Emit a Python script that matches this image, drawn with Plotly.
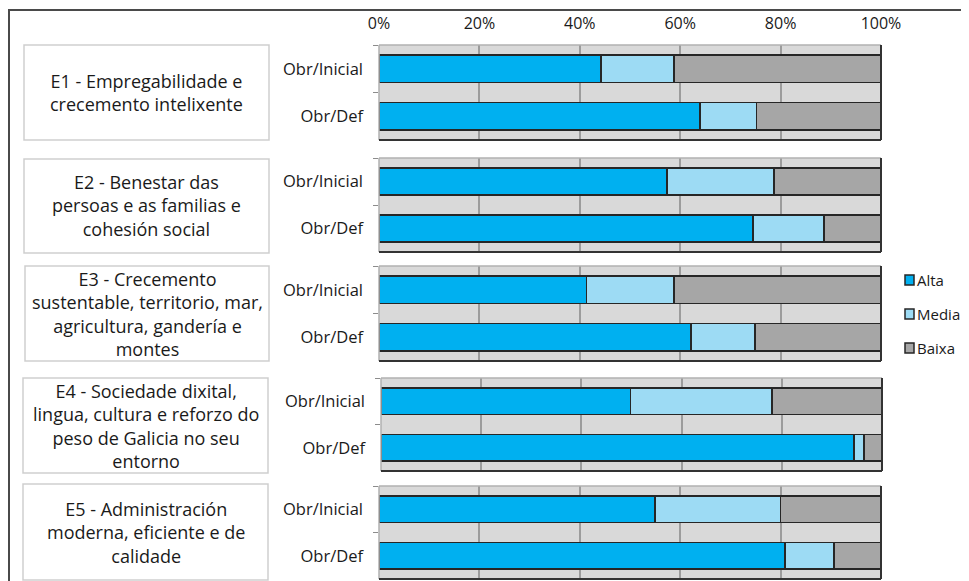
import plotly.graph_objects as go

W, H = 969, 581
PAGE_PAD = 8  # browser body margin around the plot div

ALTA = "#00B0F0"
MEDIA = "#9DDBF4"
BAIXA = "#A6A6A6"
PLOT_BG = "#D9D9D9"
GRID = "#9C9C9C"
EDGE = "#262626"
FONT = "Open Sans"
TXT = "#1a1a1a"

rows = ["Obr/Inicial", "Obr/Def"]

eixos = [
    "E1 - Empregabilidade e<br>crecemento intelixente",
    "E2 - Benestar das<br>persoas e as familias e<br>cohesión social",
    "E3 - Crecemento<br>sustentable, territorio, mar,<br>agricultura, gandería e<br>montes",
    "E4 - Sociedade dixital,<br>lingua, cultura e reforzo do<br>peso de Galicia no seu<br>entorno",
    "E5 - Administración<br>moderna, eficiente e de<br>calidade",
]

alta_ini = [44.2, 57.4, 41.3, 49.8, 55.0]
media_ini = [14.6, 21.3, 17.5, 28.2, 25.0]
baixa_ini = [41.2, 21.3, 41.2, 22.0, 20.0]

alta_def = [63.9, 74.5, 62.2, 94.4, 80.9]
media_def = [11.3, 14.1, 12.7, 2.0, 9.7]
baixa_def = [24.8, 11.4, 25.1, 3.6, 9.4]

xticks = [0, 20, 40, 60, 80, 100]
xticklabels = ["0%", "20%", "40%", "60%", "80%", "100%"]

# pixel layout of each panel on the page: (x0, x1, y_top, y_bottom)
panels = [
    (379, 881, 45, 140),
    (379, 881, 158, 252),
    (379, 881, 266, 361),
    (381, 882, 378, 471),
    (379, 881, 486, 579),
]
boxes = [
    (24, 269, 45, 140),
    (24, 269, 159, 253),
    (25, 269, 266, 361),
    (23, 268, 378, 473),
    (23, 268, 484, 580),
]
legend_y = [280, 314, 348]


def px_x(v):
    return (v - PAGE_PAD) / W


def px_y(v):
    return 1 - (v - PAGE_PAD) / H


def line(x0, y0, x1, y1, color, width):
    fig.add_shape(type="line", xref="paper", yref="paper",
                  x0=px_x(x0), x1=px_x(x1), y0=px_y(y0), y1=px_y(y1),
                  line=dict(color=color, width=width))


fig = go.Figure()
layout = {}

series = [
    ("Alta", ALTA, alta_ini, alta_def),
    ("Media", MEDIA, media_ini, media_def),
    ("Baixa", BAIXA, baixa_ini, baixa_def),
]

for i, (x0, x1, yt, yb) in enumerate(panels):
    n = "" if i == 0 else str(i + 1)
    for name, color, ini, dfn in series:
        fig.add_trace(
            go.Bar(
                y=rows,
                x=[ini[i], dfn[i]],
                orientation="h",
                name=name,
                showlegend=False,
                marker=dict(color=color, line=dict(color=EDGE, width=1.5)),
                width=0.58,
                xaxis="x" + n,
                yaxis="y" + n,
                hoverinfo="x+y+name",
            )
        )

    layout["xaxis" + n] = dict(
        domain=[px_x(x0), px_x(x1)],
        anchor="y" + n,
        range=[0, 100],
        tickvals=xticks,
        ticktext=xticklabels,
        showticklabels=(i == 0),
        side="top",
        ticklabelstandoff=12,
        tickfont=dict(size=16, color=TXT, family=FONT),
        showgrid=True,
        gridcolor=GRID,
        gridwidth=1.5,
        zeroline=False,
        showline=False,
        automargin=False,
        fixedrange=True,
    )
    layout["yaxis" + n] = dict(
        domain=[px_y(yb), px_y(yt)],
        anchor="x" + n,
        type="category",
        autorange="reversed",
        tickson="boundaries",
        ticks="outside",
        ticklen=5,
        tickcolor="#8c8c8c",
        ticklabelstandoff=15,
        tickfont=dict(size=16.5, color=TXT, family=FONT),
        showgrid=False,
        showline=False,
        automargin=False,
        fixedrange=True,
    )

    # panel frame: light top/left, darker right/bottom
    line(x0, yt, x1, yt, "#B0B0B0", 1.5)
    line(x0, yt, x0, yb, "#B0B0B0", 1.5)
    line(x1, yt, x1, yb, "#333333", 2)
    line(x0, yb, x1, yb, "#333333", 2)

for (bx0, bx1, byt, byb), text in zip(boxes, eixos):
    fig.add_shape(
        type="rect", xref="paper", yref="paper",
        x0=px_x(bx0), x1=px_x(bx1), y0=px_y(byb), y1=px_y(byt),
        line=dict(color="#CFCFCF", width=1.5),
        fillcolor="white",
    )
    fig.add_annotation(
        text=text,
        xref="paper", yref="paper",
        x=px_x((bx0 + bx1) / 2), y=px_y((byt + byb) / 2),
        xanchor="center", yanchor="middle",
        showarrow=False,
        align="center",
        font=dict(size=18, color=TXT, family=FONT),
    )

# legend drawn by hand so it sits tight against the right edge
for (name, color, _, _), ly in zip(series, legend_y):
    fig.add_shape(
        type="rect", xref="paper", yref="paper",
        x0=px_x(905), x1=px_x(914), y0=px_y(ly + 5), y1=px_y(ly - 5),
        line=dict(color=EDGE, width=1.5),
        fillcolor=color,
    )
    fig.add_annotation(
        text=name,
        xref="paper", yref="paper",
        x=px_x(915), y=px_y(ly),
        xanchor="left", yanchor="middle",
        showarrow=False,
        font=dict(size=15, color=TXT, family=FONT),
    )

# outer frame
line(8, 10, 969 + PAGE_PAD, 10, "#4a4a4a", 2)
line(9, 10, 9, 581 + PAGE_PAD, "#4a4a4a", 2)

fig.update_layout(
    **layout,
    barmode="stack",
    width=W,
    height=H,
    margin=dict(l=0, r=0, t=0, b=0),
    paper_bgcolor="white",
    plot_bgcolor=PLOT_BG,
    font=dict(family=FONT, color=TXT),
    showlegend=False,
)

fig.write_html("out.html")
